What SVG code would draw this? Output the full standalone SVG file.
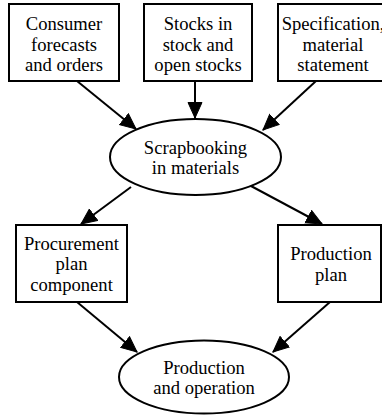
<svg xmlns="http://www.w3.org/2000/svg" width="382" height="415" viewBox="0 0 382 415">
  <style>
    .node rect, .node ellipse { fill: #ffffff; stroke: #000000; stroke-width: 2; }
    .node text { font-family: "Liberation Serif", "Times New Roman", serif; font-size: 18.6px; fill: #000000; text-anchor: middle; }
    .edges line { stroke: #000000; stroke-width: 2; marker-end: url(#arrow); }
  </style>
  <defs>
    <marker id="arrow" markerUnits="userSpaceOnUse" markerWidth="17" markerHeight="16" viewBox="0 0 17 16" refX="16" refY="8" orient="auto">
      <path d="M0.5,1 L16,8 L0.5,15 Z" fill="#000000" stroke="#000000" stroke-width="1"/>
    </marker>
  </defs>
  <rect width="382" height="415" fill="#ffffff"/>

  <g class="edges">
    <line x1="77" y1="81" x2="136" y2="129"/>
    <line x1="195" y1="81" x2="195" y2="118"/>
    <line x1="316" y1="81" x2="263" y2="130"/>
    <line x1="131" y1="187" x2="81" y2="224"/>
    <line x1="251" y1="186" x2="322" y2="224"/>
    <line x1="77" y1="302" x2="137" y2="352"/>
    <line x1="330" y1="302" x2="273" y2="352"/>
  </g>

  <g id="consumer-forecasts" class="node">
    <rect x="9" y="4" width="110" height="77"/>
    <text x="64" y="30">Consumer</text>
    <text x="64" y="50.5">forecasts</text>
    <text x="64" y="71">and orders</text>
  </g>

  <g id="stocks" class="node">
    <rect x="144" y="4" width="108" height="77"/>
    <text x="198" y="30">Stocks in</text>
    <text x="198" y="50.5">stock and</text>
    <text x="198" y="71">open stocks</text>
  </g>

  <g id="specification" class="node">
    <rect x="278" y="4" width="110" height="77"/>
    <text x="333" y="30">Specification,</text>
    <text x="333" y="50.5">material</text>
    <text x="333" y="71">statement</text>
  </g>

  <g id="scrapbooking" class="node">
    <ellipse cx="195.5" cy="157" rx="85.5" ry="38"/>
    <text x="195.5" y="153.5">Scrapbooking</text>
    <text x="195.5" y="174">in materials</text>
  </g>

  <g id="procurement-plan" class="node">
    <rect x="16" y="225" width="111" height="77"/>
    <text x="71.5" y="249.5">Procurement</text>
    <text x="71.5" y="270">plan</text>
    <text x="71.5" y="290.5">component</text>
  </g>

  <g id="production-plan" class="node">
    <rect x="278" y="225" width="103" height="77"/>
    <text x="331" y="260">Production</text>
    <text x="331" y="280.5">plan</text>
  </g>

  <g id="production-operation" class="node">
    <ellipse cx="204" cy="377" rx="85" ry="36.5"/>
    <text x="204" y="373.5">Production</text>
    <text x="204" y="394">and operation</text>
  </g>
</svg>
